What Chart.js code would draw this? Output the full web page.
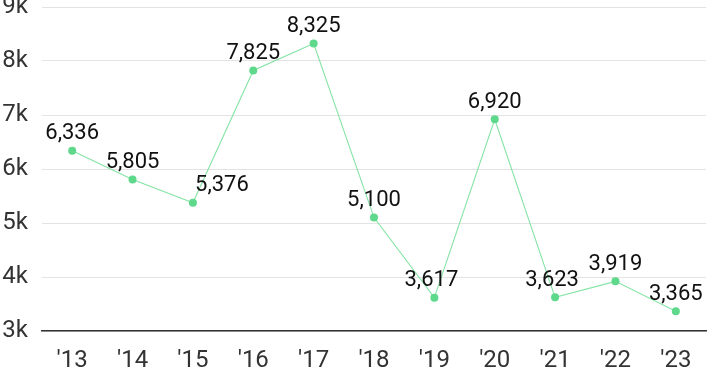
<!DOCTYPE html>
<html>
<head>
<meta charset="utf-8">
<script src="https://cdn.jsdelivr.net/npm/chart.js@4"></script>
<style>
  html, body { margin: 0; padding: 0; background: #fff; }
  #wrap { width: 710px; height: 371px; }
</style>
</head>
<body>
<div id="wrap"><canvas id="chart"></canvas></div>
<script>
const years = ["'13", "'14", "'15", "'16", "'17", "'18", "'19", "'20", "'21", "'22", "'23"];
const values = [6336, 5805, 5376, 7825, 8325, 5100, 3617, 6920, 3623, 3919, 3365];
const yTicks = [3000, 4000, 5000, 6000, 7000, 8000, 9000];

// label nudges so text doesn't sit on the line
const labelShiftX = [0, 0, 29, 0, 0, 0, -3, 0, -3, 0, 0];

const pointLabels = {
    id: 'pointLabels',
    afterDatasetsDraw(chart) {
        const ctx = chart.ctx;
        const meta = chart.getDatasetMeta(0);
        ctx.save();
        ctx.font = '22px Roboto, sans-serif';
        ctx.fillStyle = '#111';
        ctx.textAlign = 'center';
        ctx.textBaseline = 'middle';
        meta.data.forEach((pt, i) => {
            ctx.fillText(values[i].toLocaleString('en-US'), pt.x + labelShiftX[i], pt.y - 17);
        });
        ctx.restore();
    }
};

new Chart(document.getElementById('chart'), {
    type: 'line',
    data: {
        labels: years,
        datasets: [{
            data: values,
            borderColor: '#86e3a6',
            borderWidth: 1.1,
            pointBackgroundColor: '#5ed88b',
            pointBorderWidth: 0,
            pointRadius: 4,
            tension: 0
        }]
    },
    options: {
        responsive: true,
        maintainAspectRatio: false,
        animation: false,
        layout: { padding: { top: 7, right: 0, left: 0, bottom: 0 } },
        plugins: {
            legend: { display: false },
            tooltip: { enabled: false }
        },
        scales: {
            x: {
                offset: true,
                grid: { display: false },
                border: { color: '#333', width: 1.5 },
                ticks: { color: '#333', font: { family: 'Roboto', size: 24 }, padding: 8, maxRotation: 0 },
                afterFit(scale) {
                    scale.height = 40;
                    scale.paddingLeft = 0;
                    scale.paddingRight = 0;
                }
            },
            y: {
                min: 3000,
                max: 9000,
                afterBuildTicks(scale) {
                    scale.ticks = yTicks.map(v => ({ value: v }));
                },
                grid: { color: '#e3e3e3', drawTicks: false },
                border: { display: false },
                ticks: {
                    color: '#333',
                    font: { family: 'Roboto', size: 24 },
                    padding: 14,
                    callback: v => (v / 1000) + 'k'
                },
                afterFit(scale) {
                    scale.width = 42;
                    scale.paddingTop = 0;
                    scale.paddingBottom = 0;
                }
            }
        }
    },
    plugins: [pointLabels]
});
</script>
</body>
</html>
